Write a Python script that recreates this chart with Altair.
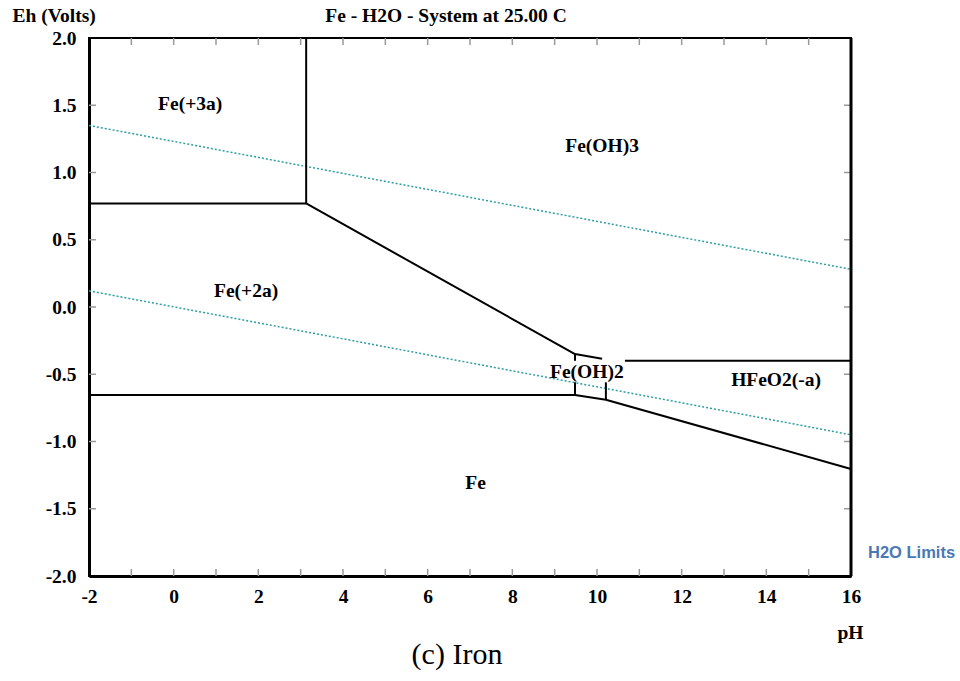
import altair as alt
import pandas as pd

# ---- data ----
# stability-field boundaries (segments: start pH, start Eh, end pH, end Eh)
seg_x1 = [-2.0, 3.13, 3.13, 9.48, 10.66, -2.0, 9.48, 9.48, 10.21, 9.48, 10.21]
seg_y1 = [0.77, 2.00, 0.77, -0.35, -0.40, -0.654, -0.35, -0.56, -0.56, -0.654, -0.69]
seg_x2 = [3.13, 3.13, 9.48, 10.12, 16.0, 9.48, 9.48, 9.48, 10.21, 10.21, 16.0]
seg_y2 = [0.77, 0.77, -0.35, -0.385, -0.40, -0.654, -0.40, -0.654, -0.69, -0.69, -1.204]

# water stability limits (dotted)
h2o_x1 = [-2.0, -2.0]
h2o_y1 = [1.35, 0.12]
h2o_x2 = [16.0, 16.0]
h2o_y2 = [0.28, -0.95]

# species labels
lab_text = ["Fe(+3a)", "Fe(OH)3", "Fe(+2a)", "Fe(OH)2", "HFeO2(-a)", "Fe"]
lab_x = [0.39, 10.12, 1.71, 9.76, 14.23, 7.13]
lab_y = [1.51, 1.20, 0.12, -0.48, -0.54, -1.31]

# axis ticks
x_label_vals = [-2, 0, 2, 4, 6, 8, 10, 12, 14, 16]
y_label_vals = [-2.0, -1.5, -1.0, -0.5, 0.0, 0.5, 1.0, 1.5, 2.0]
x_minor = [-1, 0, 1, 2, 3, 4, 5, 6, 7, 8, 9, 10, 11, 12, 13, 14, 15]
y_minor = [-1.5, -1.0, -0.5, 0.0, 0.5, 1.0, 1.5]

title_text = "Fe - H2O - System at 25.00 C"
caption_text = "(c) Iron"
legend_text = "H2O Limits"

# ---- tables ----
seg_df = pd.DataFrame({"x": seg_x1, "y": seg_y1, "x2": seg_x2, "y2": seg_y2})
h2o_df = pd.DataFrame({"x": h2o_x1, "y": h2o_y1, "x2": h2o_x2, "y2": h2o_y2})
lab_df = pd.DataFrame({"x": lab_x, "y": lab_y, "t": lab_text})
xt_df = pd.DataFrame({"x": x_minor})
yt_df = pd.DataFrame({"y": y_minor})

W, H = 762, 538
SERIF = "Liberation Serif"
FS = 19.5
MINUS = "\u2212"

xs = alt.Scale(domain=[-2, 16], nice=False, zero=False)
ys = alt.Scale(domain=[-2, 2], nice=False, zero=False)

xaxis = alt.Axis(
    values=x_label_vals, title="pH", ticks=False, grid=False,
    labelExpr=f"replace(format(datum.value, 'd'), '{MINUS}', '-')",
    labelFont=SERIF, labelFontWeight="bold", labelFontSize=FS, labelColor="black",
    labelPadding=11, labelFlush=False, labelOverlap=False,
    domainColor="black", domainWidth=3,
    titleFont=SERIF, titleFontWeight="bold", titleFontSize=FS, titleColor="black",
    titleX=761, titleY=62, titleAlign="center", titleBaseline="alphabetic",
)
yaxis = alt.Axis(
    values=y_label_vals, title="Eh (Volts)", ticks=False, grid=False,
    labelExpr=f"replace(format(datum.value, '.1f'), '{MINUS}', '-')",
    labelFont=SERIF, labelFontWeight="bold", labelFontSize=FS, labelColor="black",
    labelPadding=13, labelFlush=False, labelOverlap=False,
    domainColor="black", domainWidth=3,
    titleFont=SERIF, titleFontWeight="bold", titleFontSize=FS, titleColor="black",
    titleAngle=0, titleX=-77, titleY=-17, titleAlign="left", titleBaseline="alphabetic",
)

def X(f="x"):
    return alt.X(f"{f}:Q", scale=xs, axis=xaxis)

def Y(f="y"):
    return alt.Y(f"{f}:Q", scale=ys, axis=yaxis)

bounds = alt.Chart(seg_df).mark_rule(color="black", strokeWidth=2).encode(
    x=X(), y=Y(), x2="x2:Q", y2="y2:Q"
)

water = alt.Chart(h2o_df).mark_rule(color="#2E9E9E", strokeWidth=1.5, strokeDash=[2, 2]).encode(
    x=X(), y=Y(), x2="x2:Q", y2="y2:Q"
)

labels = alt.Chart(lab_df).mark_text(
    font=SERIF, fontWeight="bold", fontSize=FS, color="black",
    align="center", baseline="middle"
).encode(x=X(), y=Y(), text="t:N")

tick_style = dict(color="#999999", strokeWidth=1.5)
xt_bottom = alt.Chart(xt_df).mark_rule(**tick_style).encode(
    x=X(), y=alt.value(H), y2=alt.value(H - 7))
xt_top = alt.Chart(xt_df).mark_rule(**tick_style).encode(
    x=X(), y=alt.value(0), y2=alt.value(7))
yt_left = alt.Chart(yt_df).mark_rule(**tick_style).encode(
    y=Y(), x=alt.value(0), x2=alt.value(7))
yt_right = alt.Chart(yt_df).mark_rule(**tick_style).encode(
    y=Y(), x=alt.value(W), x2=alt.value(W - 7))

right_border = alt.Chart(pd.DataFrame({"t": [""]})).mark_rule(color="black", strokeWidth=3).encode(
    x=alt.value(W), y=alt.value(0), y2=alt.value(H))

title = alt.Chart(pd.DataFrame({"t": [title_text]})).mark_text(
    font=SERIF, fontWeight="bold", fontSize=FS, color="black",
    align="center", baseline="alphabetic"
).encode(text="t:N", x=alt.value(357), y=alt.value(-16))

caption = alt.Chart(pd.DataFrame({"t": [caption_text]})).mark_text(
    font=SERIF, fontSize=30, color="black", align="center", baseline="alphabetic"
).encode(text="t:N", x=alt.value(368), y=alt.value(626))

legend = alt.Chart(pd.DataFrame({"t": [legend_text]})).mark_text(
    font="Liberation Sans", fontWeight="bold", fontSize=16.5, color="#4A78B4",
    align="left", baseline="alphabetic"
).encode(text="t:N", x=alt.value(779), y=alt.value(520))

chart = alt.layer(
    xt_bottom, xt_top, yt_left, yt_right, water, bounds, right_border,
    labels, title, caption, legend
).properties(
    width=W, height=H,
    autosize=alt.AutoSizeParams(type="none"),
    padding={"left": 89, "top": 38, "right": 109, "bottom": 105},
    background="white",
).configure_view(stroke="black", strokeWidth=2)

chart.save("out.html", embed_options={"renderer": "svg", "actions": False})
